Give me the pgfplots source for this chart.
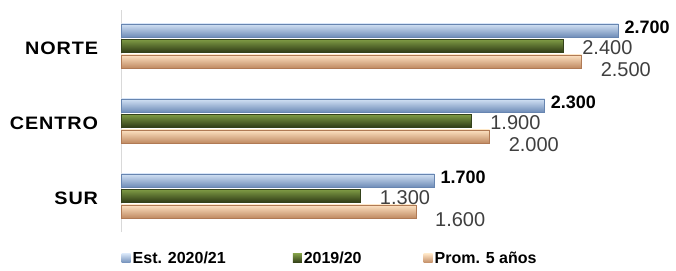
\documentclass[border=0pt]{standalone}
\usepackage{fontspec}
\setmainfont{Liberation Sans}
\newfontfamily\catfamily[LetterSpace=5,FakeStretch=1.1]{Liberation Sans}
\usepackage{pgfplots}
\pgfplotsset{compat=1.18}
\usetikzlibrary{shadings}
\definecolor{axisgray}{HTML}{D9D9D9}
\definecolor{valgray}{HTML}{3F3F3F}
\definecolor{bTop}{HTML}{D2E1F4}
\definecolor{bMid}{HTML}{A9C2E0}
\definecolor{bBot}{HTML}{6F8DB8}
\definecolor{bEdge}{HTML}{6785B0}
\definecolor{gTop}{HTML}{7E9A45}
\definecolor{gMid}{HTML}{4F6228}
\definecolor{gBot}{HTML}{2E3A15}
\definecolor{gEdge}{HTML}{34421A}
\definecolor{oTop}{HTML}{FDE2C2}
\definecolor{oMid}{HTML}{F9C08C}
\definecolor{oBot}{HTML}{C08A62}
\definecolor{oEdge}{HTML}{B07A55}
\pgfplotsset{
  sq legend/.style={legend image code/.code={\draw[##1,draw=none] (0bp,-4.5bp) rectangle (9bp,4.5bp);}},
  blueS/.style={sq legend, bar shift=15.5bp, top color=bTop, middle color=bMid, bottom color=bBot, draw=bEdge, line width=0.5pt,
    every node near coord/.append style={anchor=west, inner sep=0pt, xshift=6bp, yshift=3.5bp, text=black, font=\bfseries\fontsize{18bp}{20bp}\selectfont}},
  greenS/.style={sq legend, bar shift=0bp, top color=gTop, middle color=gMid, bottom color=gBot, draw=gEdge, line width=0.5pt,
    every node near coord/.append style={anchor=west, inner sep=0pt, xshift=19bp, yshift=-1.5bp, text=valgray, font=\fontsize{20bp}{22bp}\selectfont}},
  orangeS/.style={sq legend, bar shift=-15.5bp, top color=oTop, middle color=oMid, bottom color=oBot, draw=oEdge, line width=0.5pt,
    every node near coord/.append style={anchor=west, inner sep=0pt, xshift=19bp, yshift=-8.5bp, text=valgray, font=\fontsize{20bp}{22bp}\selectfont}},
}
\begin{document}
\begin{tikzpicture}
\useasboundingbox (0,0) rectangle (676bp,271bp);
\begin{axis}[
  at={(121.5bp,39bp)}, anchor=south west,
  scale only axis, width=552bp, height=222bp,
  xbar, xmin=0, xmax=3000, ymin=-0.48, ymax=2.48,
  bar width=13bp,
  axis x line=none, axis y line*=left,
  axis line style={draw=axisgray, -},
  ytick={0,1,2}, yticklabels={SUR,CENTRO,NORTE},
  ytick style={draw=none},
  yticklabel style={font=\catfamily\bfseries\fontsize{18bp}{20bp}\selectfont, inner sep=0pt, xshift=-19bp, yshift=-2bp, text=black},
  clip=false,
  point meta=explicit symbolic,
  nodes near coords,
  legend style={at={(axis description cs:0,-0.08)}, anchor=north west, draw=none, fill=none,
    font=\bfseries\fontsize{16bp}{18bp}\selectfont, inner sep=0pt,
    /tikz/column 2/.style={column sep=65bp},
    /tikz/column 4/.style={column sep=60bp}},
  legend columns=3,
  legend cell align=left,
]
\addplot[blueS] coordinates {(2700,2) [2.700]};
\addplot[greenS] coordinates {(2400,2) [2.400]};
\addplot[orangeS] coordinates {(2500,2) [2.500]};
\addplot[blueS, forget plot] coordinates {(2300,1) [2.300]};
\addplot[greenS, forget plot] coordinates {(1900,1) [1.900]};
\addplot[orangeS, forget plot] coordinates {(2000,1) [2.000]};
\addplot[blueS, forget plot] coordinates {(1700,0) [1.700]};
\addplot[greenS, forget plot] coordinates {(1300,0) [1.300]};
\addplot[orangeS, forget plot] coordinates {(1600,0) [1.600]};
\legend{Est. 2020/21, 2019/20, Prom. 5 años}
\end{axis}
\end{tikzpicture}
\end{document}
